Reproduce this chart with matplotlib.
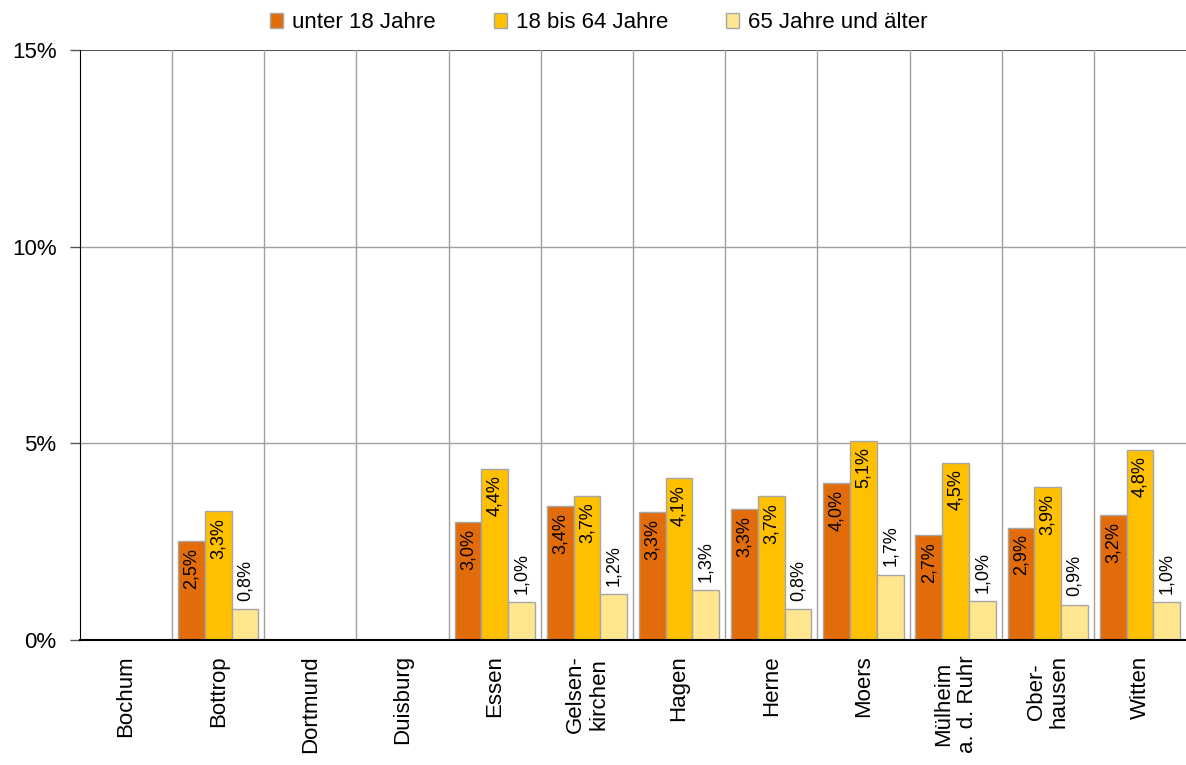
import numpy as np
import matplotlib.pyplot as plt
from matplotlib.ticker import FuncFormatter

plt.rcParams['font.family'] = ['Liberation Sans', 'DejaVu Sans']

staedte = ['Bochum', 'Bottrop', 'Dortmund', 'Duisburg', 'Essen', 'Gelsen-\nkirchen', 'Hagen',
           'Herne', 'Moers', 'Mülheim\na. d. Ruhr', 'Ober-\nhausen', 'Witten']
serien = ['unter 18 Jahre', '18 bis 64 Jahre', '65 Jahre und älter']
# nan = no value for the city
unter18 = [np.nan, 2.51, np.nan, np.nan, 3.01, 3.41, 3.26, 3.32, 3.98, 2.67, 2.86, 3.17]
mittel = [np.nan, 3.27, np.nan, np.nan, 4.36, 3.67, 4.12, 3.66, 5.07, 4.51, 3.89, 4.84]
ab65 = [np.nan, 0.79, np.nan, np.nan, 0.96, 1.16, 1.27, 0.78, 1.66, 0.98, 0.90, 0.96]

farben = ['#E36C0A', '#FFC000', '#FFE68F']

fig = plt.figure(figsize=(11.86, 7.65), dpi=100)
ax = fig.add_axes([80/1186, 1-640/765, 1106/1186, 590/765])

x = np.arange(len(staedte))
w = 0.29
daten = [unter18, mittel, ab65]
for i, (werte, f, name) in enumerate(zip(daten, farben, serien)):
    pos = x + (i-1)*w
    ax.bar(pos, werte, w, color=f, edgecolor='#A6A6A6', linewidth=1, label=name, zorder=3)
    for p, v in zip(pos, werte):
        if np.isnan(v):
            continue
        txt = ('%.1f%%' % v).replace('.', ',')
        if i < 2:
            ax.annotate(txt, (p, v), xytext=(0, -5), textcoords='offset points',
                        rotation=90, ha='center', va='top', fontsize=13, zorder=4)
        else:
            ax.annotate(txt, (p, v), xytext=(0, 6), textcoords='offset points',
                        rotation=90, ha='center', va='bottom', fontsize=13, zorder=4)

ax.set_xlim(-0.5, len(staedte)-0.5)
ax.set_ylim(0, 15)
ax.set_yticks([0, 5, 10, 15])
ax.yaxis.set_major_formatter(FuncFormatter(lambda v, p: '%d%%' % v))
ax.tick_params(axis='y', labelsize=16, length=7, width=1, color='#555555', pad=10)
ax.set_xticks(x)
ax.set_xticklabels(staedte, rotation=90, fontsize=16, va='top', ha='center', linespacing=1.15)
ax.tick_params(axis='x', length=0, pad=11)

# gridlines
for yv in [5, 10]:
    ax.axhline(yv, color='#A0A0A0', linewidth=1, zorder=1)
ax.axhline(15, color='#555555', linewidth=1.5, zorder=1)
for xv in x[:-1] + 0.5:
    ax.axvline(xv, color='#A0A0A0', linewidth=1, zorder=1)

for s in ['top', 'right']:
    ax.spines[s].set_visible(False)
ax.spines['left'].set_color('black')
ax.spines['bottom'].set_color('black')
ax.spines['bottom'].set_linewidth(1.5)
ax.spines['bottom'].set_zorder(5)

fig.legend(loc='upper center', bbox_to_anchor=(0.505, 1.01), ncol=3, frameon=False,
           fontsize=16, handlelength=0.6, handleheight=0.6, handletextpad=0.4, columnspacing=2.6)

fig.savefig('out.png', dpi=100)
